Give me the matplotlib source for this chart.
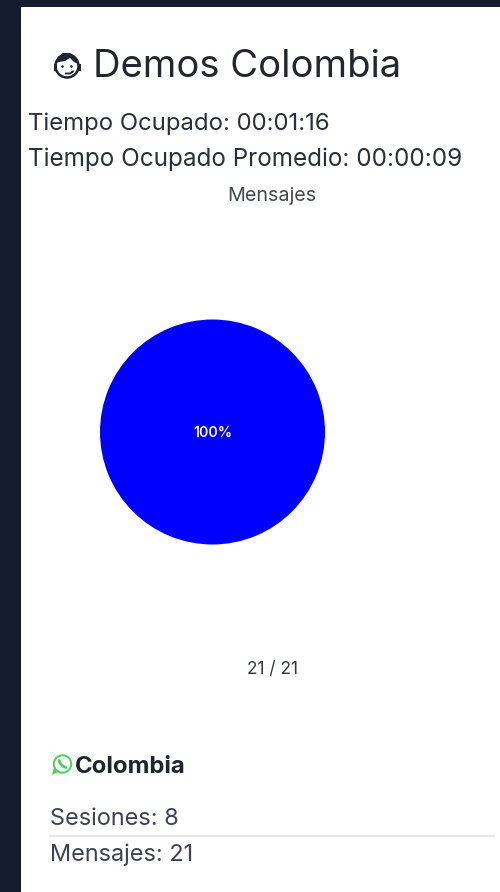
import matplotlib
matplotlib.use("Agg")
import matplotlib.pyplot as plt
from matplotlib.patches import Rectangle, Circle, Polygon

# Dashboard card content
title = "Demos Colombia"
busy_lines = ["Tiempo Ocupado: 00:01:16", "Tiempo Ocupado Promedio: 00:00:09"]
chart_title = "Mensajes"
slice_labels = ["Colombia"]
slice_values = [21]
slice_colors = ["#0000ff"]
footer = "21 / 21"
channel = "Colombia"
stats = ["Sesiones: 8", "Mensajes: 21"]

W, H = 500, 892
FONT = "Inter"
INK = "#2b2f3a"
NAVY = "#141b2d"
DARK = "#20242e"

fig = plt.figure(figsize=(W / 100, H / 100), dpi=100, facecolor=NAVY)

# Overlay in pixel coordinates, y running downwards
bg = fig.add_axes([0, 0, 1, 1])
bg.set_xlim(0, W)
bg.set_ylim(H, 0)
bg.axis("off")
bg.add_patch(Rectangle((21, 7), W - 21, H - 7, fc="white", ec="none"))

# Agent face icon
bg.add_patch(Circle((67, 66), 11.5, fc="white", ec=DARK, lw=1.8))
bg.add_patch(Polygon([(56, 63), (58, 57), (63, 53), (70, 53), (76, 57), (78.5, 64),
                      (74, 62), (70, 58), (65, 61), (59, 62)], fc=DARK, ec="none"))
bg.add_patch(Circle((62.5, 66.5), 1.3, fc=DARK, ec="none"))
bg.add_patch(Circle((71.5, 66.5), 1.3, fc=DARK, ec="none"))
bg.add_patch(Rectangle((53.5, 63.5), 3, 7, fc=DARK, ec="none"))
bg.add_patch(Rectangle((77.5, 63.5), 3, 7, fc=DARK, ec="none"))
bg.plot([66, 70, 73], [73.5, 73.5, 71.5], color=DARK, lw=1.3)

bg.text(93, 67, title, fontsize=27.5, family=FONT, color="#23262f", va="center", ha="left")
bg.text(28.5, 124, busy_lines[0], fontsize=17.2, family=FONT, color=INK, va="center", ha="left")
bg.text(28.5, 159, busy_lines[1], fontsize=17.45, family=FONT, color=INK, va="center", ha="left")
bg.text(272, 196, chart_title, fontsize=14.2, family=FONT, color="#444852", va="center", ha="center")
bg.text(272.5, 670, footer, fontsize=12.4, family=FONT, color="#333742", va="center", ha="center")

# WhatsApp icon
GREEN = "#4fce5d"
bg.add_patch(Circle((62.5, 764), 8.7, fc="white", ec=GREEN, lw=1.4))
bg.add_patch(Polygon([(52, 775), (54, 767), (58, 772)], fc=GREEN, ec="none"))
bg.plot([59, 60, 62.5, 66], [760.5, 763, 766, 767.5], color=GREEN, lw=2.0, solid_capstyle="round")

bg.text(75, 767, channel, fontsize=17.2, family=FONT, weight="bold", color=DARK, va="center", ha="left")
bg.text(50.5, 819, stats[0], fontsize=16.9, family=FONT, color="#3d4250", va="center", ha="left")
bg.plot([50, 494], [835.5, 835.5], color="#e2e3e5", lw=1.2)
bg.text(50.5, 855, stats[1], fontsize=16.9, family=FONT, color="#3d4250", va="center", ha="left")

# Pie chart with its own axes, centred at (212.5, 432) with a 112.5 px radius
cx, cy, r = 212.5, 432, 112.5
pie_ax = fig.add_axes([(cx - r) / W, 1 - (cy + r) / H, 2 * r / W, 2 * r / H])
wedges, _, autotexts = pie_ax.pie(slice_values, colors=slice_colors, radius=1.0, startangle=90,
                                  labels=None, autopct="%d%%", pctdistance=0.0,
                                  textprops=dict(color="white", fontsize=10.2, family=FONT,
                                                 weight="semibold"))
autotexts[0].set_y(-0.012)
pie_ax.set_xlim(-1, 1)
pie_ax.set_ylim(-1, 1)

fig.savefig("out.png", dpi=100, facecolor=fig.get_facecolor())
